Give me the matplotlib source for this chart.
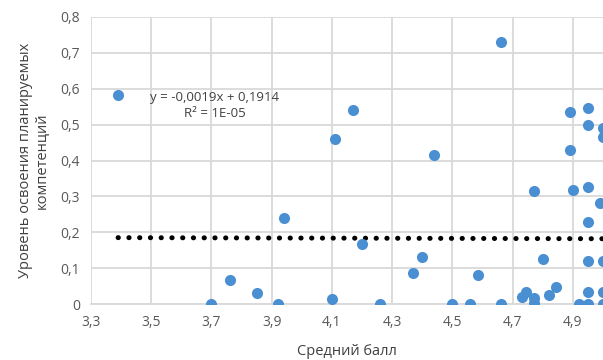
import matplotlib.pyplot as plt
import numpy as np

plt.rcParams['font.family'] = ['Open Sans', 'DejaVu Sans']

# средний балл / уровень освоения
avg_score = [3.39, 4.66, 4.17, 4.11, 4.44, 4.89, 4.95, 4.95, 5.00, 5.00,
             4.89, 3.94, 3.76, 3.85, 3.70, 3.92, 4.20, 4.10, 4.26, 4.37,
             4.40, 4.50, 4.56, 4.585, 4.66, 4.77, 4.90, 4.95, 4.99, 4.95,
             4.80, 4.95, 5.00, 4.73, 4.745, 4.77, 4.77, 4.82, 4.845, 4.92,
             4.95, 4.95, 5.00, 5.00]
mastery = [0.582, 0.730, 0.540, 0.460, 0.415, 0.535, 0.546, 0.499, 0.490, 0.465,
           0.430, 0.240, 0.067, 0.031, 0.0, 0.0, 0.167, 0.014, 0.0, 0.086,
           0.131, 0.0, 0.0, 0.081, 0.0, 0.315, 0.318, 0.326, 0.281, 0.228,
           0.125, 0.120, 0.120, 0.020, 0.033, 0.017, 0.003, 0.025, 0.047, 0.0,
           0.0, 0.033, 0.033, 0.0]

slope = -0.0019
intercept = 0.1914

x_ticks = [3.3, 3.5, 3.7, 3.9, 4.1, 4.3, 4.5, 4.7, 4.9]
y_ticks = [0, 0.1, 0.2, 0.3, 0.4, 0.5, 0.6, 0.7, 0.8]

fig = plt.figure(figsize=(6.03, 3.6), dpi=100)
ax = fig.add_axes([91 / 603, 56 / 360, 512 / 603, 287 / 360])

ax.scatter(avg_score, mastery, s=64, color='#4A8FD2', zorder=3, linewidths=0)

# линия тренда
xs = np.array([min(avg_score), max(avg_score) + 0.1])
ax.plot(xs, slope * xs + intercept, color='black', linewidth=3.6,
        linestyle=(0, (0.05, 2.1)), dash_capstyle='round', zorder=2)

ax.set_xlim(3.3, 5.0)
ax.set_ylim(0, 0.8)
ax.set_xticks(x_ticks)
ax.set_yticks(y_ticks)
ax.set_xticklabels([f'{v:.1f}'.replace('.', ',') for v in x_ticks])
ax.set_yticklabels(['0'] + [f'{v:.1f}'.replace('.', ',') for v in y_ticks[1:]])
ax.grid(True, color='#D9D9D9', linewidth=1.3)
ax.set_axisbelow(True)
for side in ['top', 'right', 'left']:
    ax.spines[side].set_visible(False)
ax.spines['bottom'].set_color('#D9D9D9')
ax.spines['bottom'].set_linewidth(1.3)
ax.tick_params(length=0, labelsize=10, colors='#595959', pad=8)

ax.set_xlabel('Средний балл', fontsize=10.5, color='#404040', labelpad=10)
ax.set_ylabel('Уровень освоения планируемых\nкомпетенций', fontsize=10.5,
              color='#404040', labelpad=8, linespacing=1.1)

ax.text(3.71, 0.553, 'y = -0,0019x + 0,1914\nR² = 1E-05', ha='center',
        va='center', fontsize=9.5, color='#404040', linespacing=1.35)

fig.savefig('out.png', dpi=100)
